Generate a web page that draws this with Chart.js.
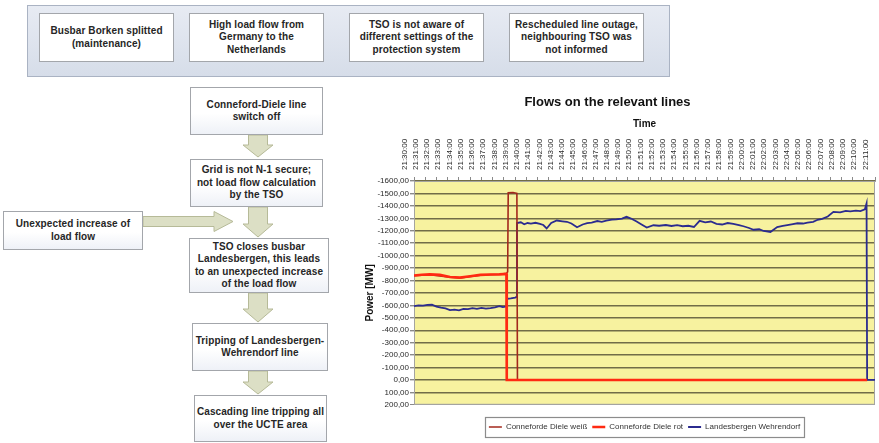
<!DOCTYPE html>
<html>
<head>
<meta charset="utf-8">
<script src="https://cdn.jsdelivr.net/npm/chart.js@4"></script>
<style>
  html, body { margin: 0; padding: 0; background: #fff; }
  body { width: 879px; height: 443px; position: relative; overflow: hidden;
         font-family: "Liberation Sans", Arial, sans-serif; }
  .panel { position: absolute; left: 27px; top: 5px; width: 641px; height: 70px;
           background: linear-gradient(#e7ebf3, #d6dde9); border: 1px solid #aab3c3; }
  .box { position: absolute; display: flex; align-items: center; justify-content: center;
         text-align: center; font-weight: bold; font-size: 10px; line-height: 12.4px; color: #262626;
         background: linear-gradient(#ffffff 55%, #eef1f7); border: 1px solid #a3a6ab;
         box-sizing: border-box; letter-spacing: 0.1px; }
  .top { top: 13px; height: 49px; width: 135px; background: #fff; }
  svg { position: absolute; left: 0; top: 0; }
  #chartWrap { position: absolute; left: 340px; top: 85px; width: 574px; height: 358px; }
</style>
</head>
<body>
<div class="panel"></div>
<div class="box top" style="left:39px">Busbar Borken splitted<br>(maintenance)</div>
<div class="box top" style="left:189px">High load flow from<br>Germany to the<br>Netherlands</div>
<div class="box top" style="left:349px">TSO is not aware of<br>different settings of the<br>protection system</div>
<div class="box top" style="left:509px">Rescheduled line outage,<br>neighbouring TSO was<br>not informed</div>

<svg width="340" height="443">
  <g fill="#dcdfc5" stroke="#b6ba98" stroke-width="1">
    <polygon points="248.5,135 267.5,135 267.5,145 273,145 258,157 243,145 248.5,145"/>
    <polygon points="248.5,207 267.5,207 267.5,224 273,224 258,237 243,224 248.5,224"/>
    <polygon points="248.5,293 267.5,293 267.5,309 273,309 258,322 243,309 248.5,309"/>
    <polygon points="248.5,371 267.5,371 267.5,382 273,382 258,394 243,382 248.5,382"/>
    <polygon points="143,216.5 214,216.5 214,211.5 233,221.5 214,231.5 214,226.5 143,226.5"/>
  </g>
</svg>

<div class="box" style="left:190px;top:87px;width:133px;height:48px">Conneford-Diele line<br>switch off</div>
<div class="box" style="left:190px;top:159px;width:133px;height:48px">Grid is not N-1 secure;<br>not load flow calculation<br>by the TSO</div>
<div class="box" style="left:3px;top:211px;width:140px;height:39px">Unexpected increase of<br>load flow</div>
<div class="box" style="left:189px;top:238px;width:140px;height:55px">TSO closes busbar<br>Landesbergen, this leads<br>to an unexpected increase<br>of the load flow</div>
<div class="box" style="left:192px;top:323px;width:136px;height:48px">Tripping of Landesbergen-<br>Wehrendorf line</div>
<div class="box" style="left:194px;top:395px;width:133px;height:47px">Cascading line tripping all<br>over the UCTE area</div>

<div id="chartWrap"><canvas id="flows" width="574" height="358"></canvas></div>

<script>
// Minute ticks along the time axis (position = minutes after 21:30)
const timeLabels = [
  '21:30:00','21:31:00','21:32:00','21:33:00','21:34:00','21:35:00','21:36:00','21:37:00',
  '21:38:00','21:39:00','21:40:00','21:41:00','21:42:00','21:43:00','21:44:00','21:45:00',
  '21:46:00','21:47:00','21:48:00','21:49:00','21:50:00','21:51:00','21:52:00','21:53:00',
  '21:54:00','21:55:00','21:56:00','21:57:00','21:58:00','21:59:00','22:00:00','22:01:00',
  '22:02:00','22:03:00','22:04:00','22:05:00','22:06:00','22:07:00','22:08:00','22:09:00',
  '22:10:00','22:11:00'
];

const seriesNames = ['Conneforde Diele weiß', 'Conneforde Diele rot', 'Landesbergen Wehrendorf'];

// Conneforde Diele weiß (minutes, MW)
const weissT  = [0, 1.4, 3.2, 4.1, 5.9, 7.6, 8.25, 8.33, 8.38, 8.8, 9.15, 9.2, 40.3];
const weissMW = [-838, -846, -826, -821, -843, -850, -858, -870, -1506, -1508, -1501, 0, 0];

// Conneforde Diele rot (minutes, MW)
const rotT  = [0, 0.7, 1.4, 2.3, 3.2, 4.1, 5.0, 5.9, 6.8, 7.6, 8.22, 8.25, 40.3];
const rotMW = [-840, -846, -849, -845, -828, -823, -834, -845, -848, -849, -853, 0, 0];

// Landesbergen Wehrendorf (minutes, MW)
const lwT = [
  0, 0.4, 0.8, 1.2, 1.6, 2.0, 2.4, 2.8, 3.2, 3.6, 4.0, 4.4, 4.8, 5.2, 5.6, 6.0, 6.4, 6.8, 7.2, 7.6,
  7.9, 8.2, 8.28, 8.6, 9.0, 9.12, 9.16, 9.5, 9.8, 10.1, 10.4, 10.8, 11.2, 11.5, 11.8, 12.2, 12.7,
  13.2, 13.6, 14.0, 14.5, 15.0, 15.4, 15.8, 16.3, 16.7, 17.1, 17.6, 18.0, 18.5, 18.9, 19.3, 19.8,
  20.2, 20.7, 21.3, 21.8, 22.4, 22.9, 23.4, 23.9, 24.4, 24.9, 25.4, 25.9, 26.4, 26.9, 27.4, 27.9,
  28.4, 28.9, 29.3, 29.8, 30.2, 30.7, 31.1, 31.7, 32.3, 32.8, 33.2, 33.7, 34.1, 34.6, 35.0, 35.5,
  35.9, 36.3, 36.8, 37.3, 37.9, 38.4, 38.8, 39.3, 39.7, 40.1, 40.25, 40.3, 41
];
const lwMW = [
  -594, -600, -597, -603, -606, -590, -582, -575, -562, -566, -560, -572, -570, -578, -572, -580, -574, -578, -583, -594,
  -586, -590, -652, -656, -662, -668, -1262, -1268, -1252, -1262, -1258, -1264, -1255, -1246, -1218, -1262, -1282,
  -1276, -1272, -1258, -1228, -1250, -1262, -1266, -1278, -1272, -1282, -1290, -1292, -1298, -1312, -1298, -1274,
  -1252, -1225, -1244, -1240, -1246, -1238, -1245, -1236, -1240, -1230, -1280, -1268, -1274, -1256, -1250, -1262,
  -1256, -1246, -1236, -1222, -1208, -1212, -1198, -1190, -1230, -1240, -1246, -1254, -1260, -1258, -1266, -1272,
  -1288, -1296, -1314, -1352, -1348, -1360, -1356, -1362, -1358, -1372, -1420, 0, 0
];

const toPoints = (ts, vs) => ts.map((t, i) => ({ x: t, y: vs[i] }));

// Yellow plot background, grey frame and the boxed legend
const plotDecor = {
  id: 'plotDecor',
  beforeDraw(chart) {
    const { ctx, chartArea: a } = chart;
    ctx.save();
    ctx.fillStyle = '#f7f29f';
    ctx.fillRect(a.left, a.top, a.width, a.height);
    ctx.restore();
  },
  beforeDatasetsDraw(chart) {
    const { ctx, chartArea: a } = chart;
    ctx.save();
    ctx.strokeStyle = '#a4a4a0';
    ctx.lineWidth = 1;
    ctx.strokeRect(a.left + 0.5, a.top + 0.5, a.width - 1, a.height - 1);
    ctx.restore();
  },
  afterDraw(chart) {
    const boxes = chart.legend && chart.legend.legendHitBoxes;
    if (!boxes || !boxes.length) return;
    let l = Infinity, r = -Infinity, t = Infinity, b = -Infinity;
    boxes.forEach(h => {
      l = Math.min(l, h.left); r = Math.max(r, h.left + h.width);
      t = Math.min(t, h.top); b = Math.max(b, h.top + h.height);
    });
    const { ctx } = chart;
    ctx.save();
    ctx.strokeStyle = '#8c8c8c';
    ctx.lineWidth = 1.2;
    ctx.strokeRect(Math.round(l - 4) + 0.5, Math.round(t - 6) + 0.5, Math.round(r - l + 8), Math.round(b - t + 12));
    ctx.restore();
  }
};

const fmtMW = v => Number(v).toFixed(2).replace('.', ',');

new Chart(document.getElementById('flows'), {
  type: 'line',
  data: {
    datasets: [
      { label: seriesNames[0], data: toPoints(weissT, weissMW), borderColor: '#a3281c', backgroundColor: '#a3281c',
        borderWidth: 1.6, order: 1 },
      { label: seriesNames[1], data: toPoints(rotT, rotMW), borderColor: '#ff2a12', backgroundColor: '#ff2a12',
        borderWidth: 2.6, order: 0 },
      { label: seriesNames[2], data: toPoints(lwT, lwMW), borderColor: '#2b2b8f', backgroundColor: '#2b2b8f',
        borderWidth: 1.8, order: 2 }
    ]
  },
  options: {
    responsive: false,
    animation: false,
    devicePixelRatio: 1,
    elements: { point: { radius: 0 }, line: { tension: 0 } },
    layout: { padding: { left: 0, right: 39, top: 0, bottom: 2 } },
    plugins: {
      tooltip: { enabled: false },
      title: {
        display: true,
        text: 'Flows on the relevant lines',
        color: '#111',
        font: { family: '"Liberation Sans", Arial, sans-serif', size: 13, weight: 'bold' },
        padding: { top: 10, bottom: 4 }
      },
      legend: {
        position: 'bottom',
        fullSize: false,
        title: { display: true, text: ' ', font: { size: 1 }, padding: { top: 12, bottom: 0 } },
        labels: {
          usePointStyle: true,
          pointStyle: 'line',
          pointStyleWidth: 13,
          padding: 5,
          color: '#333',
          font: { family: '"Liberation Sans", Arial, sans-serif', size: 8 },
          sort: (a, b) => a.datasetIndex - b.datasetIndex
        }
      }
    },
    scales: {
      x: {
        type: 'linear',
        position: 'top',
        min: 0,
        max: timeLabels.length - 1,
        afterFit(scale) { scale.height = 66.4; },
        afterBuildTicks(scale) { scale.ticks = timeLabels.map((_, i) => ({ value: i })); },
        ticks: {
          autoSkip: false,
          minRotation: 90,
          maxRotation: 90,
          padding: 7,
          color: '#2a2a2a',
          font: { family: '"Liberation Sans", Arial, sans-serif', size: 8 },
          callback: v => timeLabels[v]
        },
        grid: { drawOnChartArea: false, drawTicks: true, tickLength: 4, color: '#8a8a8a' },
        border: { display: true, color: '#a4a4a0' },
        title: {
          display: true,
          text: 'Time',
          color: '#111',
          font: { family: '"Liberation Sans", Arial, sans-serif', size: 10, weight: 'bold' },
          padding: { top: 4, bottom: 0 }
        }
      },
      y: {
        reverse: true,
        min: -1600,
        max: 200,
        afterFit(scale) { scale.width = 74; },
        ticks: {
          stepSize: 100,
          autoSkip: false,
          padding: 1,
          color: '#2a2a2a',
          font: { family: '"Liberation Sans", Arial, sans-serif', size: 8 },
          callback: v => fmtMW(v)
        },
        grid: {
          color: ctx => (ctx.tick && ctx.tick.value === 200) ? '#a4a4a0' : '#716c47',
          lineWidth: ctx => (ctx.tick && ctx.tick.value === 200) ? 1 : 1.4,
          tickColor: '#8a8a8a',
          tickLength: 4
        },
        border: { display: true, color: '#a4a4a0' },
        title: {
          display: true,
          text: 'Power [MW]',
          color: '#111',
          font: { family: '"Liberation Sans", Arial, sans-serif', size: 10, weight: 'bold' },
          padding: { top: 24, bottom: 0 }
        }
      }
    }
  },
  plugins: [plotDecor]
});
</script>
</body>
</html>
